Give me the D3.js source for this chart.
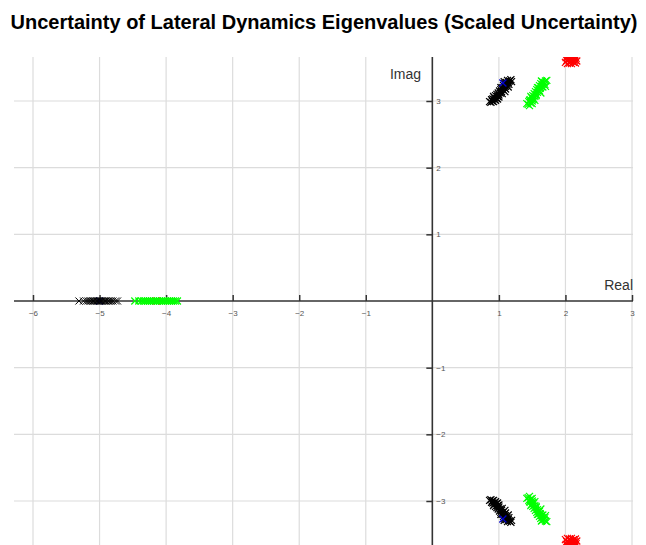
<!DOCTYPE html>
<html>
<head>
<meta charset="utf-8">
<script src="https://cdn.jsdelivr.net/npm/d3@7"></script>
<style>
  html, body { margin: 0; padding: 0; background: #fff; }
  svg { display: block; font-family: "Liberation Sans", Arial, Helvetica, sans-serif; }
</style>
</head>
<body>
<svg id="chart" width="646" height="545"></svg>
<script>
// Tick values on each axis
const xTicks = [-6, -5, -4, -3, -2, -1, 1, 2, 3];
const yTicks = [-3, -2, -1, 1, 2, 3];

// Real eigenvalues (spiral / roll modes) under sampled uncertainty
const realBlack = [-5.31, -5.24, -5.20, -5.17, -5.14, -5.12, -5.10, -5.08, -5.06, -5.04, -5.02,
  -5.00, -4.98, -4.96, -4.94, -4.92, -4.90, -4.88, -4.86, -4.83, -4.80, -4.76, -4.73];
const realGreen = [-4.47, -4.41, -4.37, -4.34, -4.31, -4.28, -4.25, -4.22, -4.19, -4.16, -4.13,
  -4.10, -4.07, -4.04, -4.01, -3.98, -3.95, -3.92, -3.89, -3.86, -3.83];

// Complex eigenvalues (upper half-plane); conjugates are drawn below the axis
const complexBlack = [[0.88,2.98],[0.90,3.00],[0.92,2.99],[0.91,3.03],[0.94,3.02],[0.93,3.05],
  [0.96,3.04],[0.95,3.08],[0.98,3.07],[0.97,3.10],[1.00,3.09],[0.99,3.12],[1.02,3.12],[1.01,3.15],
  [1.04,3.14],[1.03,3.17],[1.06,3.17],[1.05,3.20],[1.08,3.20],[1.07,3.23],[1.10,3.22],[1.09,3.26],
  [1.12,3.25],[1.11,3.28],[1.14,3.28],[1.13,3.31],[1.16,3.30],[1.18,3.32],[0.89,3.02],[0.95,3.01],
  [1.00,3.06],[1.05,3.11],[1.10,3.18],[1.15,3.25],[0.86,2.99],[1.19,3.29],[0.92,3.07],[0.98,3.03],
  [1.03,3.20],[1.09,3.14],[1.08,3.29],[1.14,3.21]];
const complexGreen = [[1.44,2.95],[1.46,2.93],[1.45,2.99],[1.48,2.97],[1.47,3.02],[1.50,3.00],
  [1.49,3.05],[1.52,3.04],[1.51,3.08],[1.54,3.07],[1.53,3.11],[1.56,3.10],[1.55,3.14],[1.58,3.13],
  [1.57,3.17],[1.60,3.16],[1.59,3.20],[1.62,3.19],[1.61,3.23],[1.64,3.22],[1.63,3.26],[1.66,3.25],
  [1.65,3.29],[1.68,3.28],[1.70,3.30],[1.72,3.31],[1.69,3.25],[1.46,3.01],[1.51,3.02],[1.56,3.08],
  [1.61,3.15],[1.66,3.21],[1.42,2.96],[1.50,2.96],[1.48,3.07],[1.54,3.01],[1.58,3.20],[1.63,3.12],
  [1.64,3.30],[1.70,3.22]];
const complexRed = [[2.00,3.58],[2.03,3.56],[2.06,3.57],[2.09,3.56],[2.12,3.58],[2.15,3.57],
  [2.02,3.61],[2.05,3.62],[2.08,3.60],[2.11,3.62],[2.14,3.61],[2.17,3.60],[2.01,3.65],[2.04,3.66],
  [2.07,3.64],[2.10,3.66],[2.13,3.65],[2.16,3.64],[2.03,3.69],[2.09,3.70],[2.14,3.68]];

// Nominal eigenvalues
const nominalBlueReal = [[-5.00, 0]];
const nominalBlueComplex = [[1.06, 3.27]];
const nominalRed = [[-4.15, 0]];

const svg = d3.select("#chart");
const W = 646, H = 545;
const plotTop = 57, plotLeft = 14, plotRight = 633;

const x = d3.scaleLinear().domain([-6, 3]).range([33, 632]);
const y = d3.scaleLinear().domain([-3, 3]).range([501, 101]);

// Title
svg.append("text")
  .attr("x", 324).attr("y", 29)
  .attr("text-anchor", "middle")
  .attr("font-weight", "bold")
  .attr("font-size", 20)
  .attr("fill", "#000")
  .text("Uncertainty of Lateral Dynamics Eigenvalues (Scaled Uncertainty)");

// Grid lines
const grid = svg.append("g").attr("stroke", "#dcdcdc").attr("stroke-width", 1.2);
grid.selectAll("line.v").data(xTicks).join("line")
  .attr("x1", d => x(d)).attr("x2", d => x(d))
  .attr("y1", plotTop).attr("y2", H);
grid.selectAll("line.h").data(yTicks).join("line")
  .attr("x1", plotLeft).attr("x2", plotRight)
  .attr("y1", d => y(d)).attr("y2", d => y(d));

// Axes crossing at the origin
const axisColor = "#333";
const xAxis = d3.axisBottom(x).tickValues(xTicks).tickSize(0).tickFormat(d3.format("d"));
const gx = svg.append("g").attr("transform", `translate(0,${y(0)})`).call(xAxis);
gx.select(".domain").remove();
gx.selectAll("text").attr("dy", 0).attr("y", 15).attr("font-size", 8).attr("fill", "#555")
  .attr("font-family", "Liberation Sans, Arial, sans-serif");
gx.selectAll(".tick").append("line")
  .attr("y1", -6).attr("y2", 0).attr("stroke", axisColor).attr("stroke-width", 1.5);

const yAxis = d3.axisRight(y).tickValues(yTicks).tickSize(0).tickFormat(d3.format("d"));
const gy = svg.append("g").attr("transform", `translate(${x(0)},0)`).call(yAxis);
gy.select(".domain").remove();
gy.selectAll("text").attr("x", 4).attr("font-size", 8).attr("fill", "#555")
  .attr("font-family", "Liberation Sans, Arial, sans-serif");
gy.selectAll(".tick").append("line")
  .attr("x1", -6).attr("x2", 0).attr("stroke", axisColor).attr("stroke-width", 1.5);

svg.append("line")
  .attr("x1", plotLeft).attr("x2", plotRight)
  .attr("y1", y(0)).attr("y2", y(0))
  .attr("stroke", axisColor).attr("stroke-width", 1.6);
svg.append("line")
  .attr("x1", x(0)).attr("x2", x(0))
  .attr("y1", plotTop).attr("y2", H)
  .attr("stroke", axisColor).attr("stroke-width", 1.6);

// Axis titles
svg.append("text").attr("x", 421).attr("y", 79).attr("text-anchor", "end")
  .attr("font-size", 14).attr("fill", "#333").text("Imag");
svg.append("text").attr("x", 633).attr("y", 290).attr("text-anchor", "end")
  .attr("font-size", 14).attr("fill", "#333").text("Real");

// Eigenvalue markers
svg.append("defs").append("clipPath").attr("id", "plotClip")
  .append("rect").attr("x", plotLeft).attr("y", plotTop)
  .attr("width", plotRight - plotLeft).attr("height", H - plotTop);
const marks = svg.append("g").attr("clip-path", "url(#plotClip)");

const withConjugates = pts => pts.concat(pts.map(([re, im]) => [re, -im]));
const cross = d3.symbol().type(d3.symbolX).size(34);

function drawSet(points, color, width = 1.2) {
  marks.append("g").selectAll("path").data(points).join("path")
    .attr("d", cross)
    .attr("transform", d => `translate(${x(d[0])},${y(d[1])})`)
    .attr("fill", "none")
    .attr("stroke", color)
    .attr("stroke-width", width);
}

drawSet(withConjugates(complexRed), "#ff0000");
drawSet(nominalRed, "#ff0000");
drawSet(realGreen.map(re => [re, 0]), "#00ff00");
drawSet(withConjugates(complexGreen), "#00ff00");
drawSet(nominalBlueReal, "#000080");
drawSet(realBlack.map(re => [re, 0]), "#000000", 1.0);
drawSet(withConjugates(complexBlack), "#000000");
drawSet(withConjugates(nominalBlueComplex), "#0000cc");
</script>
</body>
</html>
